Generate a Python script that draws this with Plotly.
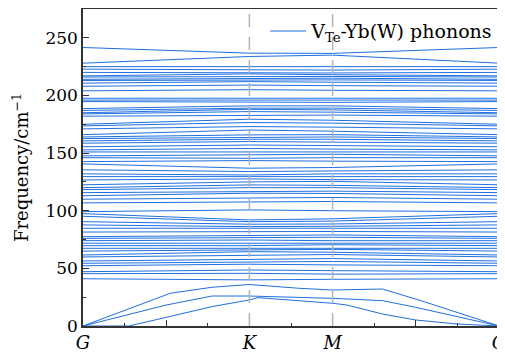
import plotly.graph_objects as go

# high-symmetry path positions and labels
kpath_pos = [0, 4, 6, 10]
kpath_labels = ["G", "K", "M", "G"]

# optical bands: frequency (cm^-1) at G, K, M (the path returns to G)
freq_G = [41.0, 45.4, 47.1, 52.3, 54.4, 56.4, 59.9, 61.6, 65.0, 67.4, 69.7, 71.8, 74.0, 76.0, 77.5,
          81.5, 84.8, 87.7, 90.5, 95.2, 97.5, 99.2, 106.8, 110.0, 113.0, 115.7, 118.3, 120.0, 122.5,
          126.7, 129.6, 132.0, 135.5, 140.6, 142.6, 146.0, 147.6, 151.0, 152.8, 155.5, 158.6, 160.6,
          162.6, 164.0, 166.0, 171.0, 173.6, 175.0, 182.0, 184.0, 185.0, 187.0, 188.6, 194.7, 196.0,
          197.6, 204.0, 208.0, 210.7, 213.0, 214.0, 216.0, 217.0, 220.0, 222.8, 225.0, 228.0, 241.6]
freq_K = [40.0, 45.7, 48.6, 53.6, 55.8, 58.0, 61.6, 64.5, 66.0, 67.4, 69.7, 71.8, 74.6, 76.5, 78.5,
          81.9, 84.8, 86.2, 88.3, 90.5, 92.0, 100.7, 108.0, 111.0, 115.2, 116.6, 120.0, 122.4, 125.0,
          127.6, 129.6, 131.0, 134.0, 136.9, 143.5, 145.5, 148.4, 151.3, 154.0, 157.0, 160.0, 162.0,
          163.8, 165.8, 170.0, 173.0, 176.5, 179.4, 183.0, 186.0, 188.0, 189.0, 191.0, 193.8, 195.6,
          197.6, 205.0, 209.0, 212.0, 213.5, 215.0, 216.4, 218.7, 219.5, 222.0, 225.0, 233.8, 236.7]
freq_M = [40.5, 45.0, 48.0, 53.0, 56.0, 58.5, 62.0, 64.0, 66.5, 68.0, 70.5, 72.0, 74.0, 77.0, 79.0,
          82.0, 85.0, 86.5, 88.5, 91.0, 93.0, 100.0, 108.0, 111.5, 115.0, 117.0, 120.0, 122.0, 125.5,
          127.0, 130.0, 132.0, 134.5, 137.5, 143.0, 146.0, 149.0, 151.0, 153.5, 156.5, 159.5, 162.0,
          164.0, 166.0, 169.0, 172.5, 176.0, 178.5, 183.0, 185.5, 187.5, 189.0, 191.0, 194.0, 196.0,
          198.0, 204.5, 208.5, 211.5, 213.5, 215.0, 216.5, 218.0, 219.5, 222.0, 225.0, 235.0, 236.5]

# acoustic branches (path coordinate, frequency)
ac1_k = [0, 1.1, 2.0, 3.1, 4.0, 4.2, 6.0, 6.34, 7.2, 8.0, 9.0, 10]
ac1_f = [0, 0, 7.5, 16.8, 22.6, 24.6, 19.7, 18.2, 10.4, 5.2, 1.7, 0]
ac2_k = [0, 2.0, 3.1, 4.0, 6.0, 7.2, 8.0, 10]
ac2_f = [0, 18.2, 26.0, 26.0, 24.0, 22.0, 16.2, 0]
ac3_k = [0, 2.1, 3.1, 4.0, 5.2, 6.0, 7.2, 8.2, 10]
ac3_f = [0, 28.4, 33.6, 36.0, 32.7, 31.2, 32.1, 21.1, 0]

BLUE = "#1f6fe0"
SERIF = "DejaVu Serif"

fig = go.Figure()

for ks, fs in [(ac1_k, ac1_f), (ac2_k, ac2_f), (ac3_k, ac3_f)]:
    fig.add_trace(go.Scatter(x=ks, y=fs, mode="lines", line=dict(color=BLUE, width=1),
                             showlegend=False, hoverinfo="skip"))

for i, (g, k, m) in enumerate(zip(freq_G, freq_K, freq_M)):
    fig.add_trace(go.Scatter(x=kpath_pos, y=[g, k, m, g], mode="lines",
                             line=dict(color=BLUE, width=1),
                             name="V<sub>Te</sub>-Yb(W) phonons", showlegend=(i == 0),
                             hoverinfo="skip"))

for xv in kpath_pos[1:3]:
    fig.add_shape(type="line", x0=xv, x1=xv, y0=0, y1=1, xref="x", yref="paper",
                  line=dict(color="#b4b4b4", width=1.5, dash="13px,10px"), layer="above")

fig.update_layout(
    width=505, height=346,
    margin=dict(l=75, r=14, t=1, b=28, autoexpand=False),
    plot_bgcolor="white", paper_bgcolor="white",
    font=dict(family=SERIF, size=17, color="black"),
    legend=dict(x=0.998, y=0.99, xanchor="right", yanchor="top",
                bgcolor="rgba(0,0,0,0)", borderwidth=0,
                font=dict(family=SERIF, size=19), itemwidth=36),
)
fig.update_xaxes(
    range=[0, 10], tickvals=[0, 2, 4, 6, 8, 10],
    ticktext=["<i>G</i>", "", "<i>K</i>", "<i>M</i>", "", "<i>G</i>"],
    ticks="inside", ticklen=6, tickwidth=1.2, tickcolor="#333",
    minor=dict(dtick=1, ticks="inside", ticklen=3, tickcolor="#333", showgrid=False),
    showline=True, linecolor="#333", linewidth=1.5, mirror=True,
    showgrid=False, zeroline=False, tickfont=dict(family=SERIF, size=18),
    automargin=False,
)
fig.update_yaxes(
    range=[0, 275], tickvals=[0, 50, 100, 150, 200, 250],
    ticks="inside", ticklen=6, tickwidth=1.2, tickcolor="#333",
    minor=dict(dtick=25, ticks="inside", ticklen=3, tickcolor="#333", showgrid=False),
    showline=True, linecolor="#333", linewidth=1.5, mirror=True,
    showgrid=False, zeroline=False, tickfont=dict(family=SERIF, size=17),
    title=dict(text="Frequency/cm<sup>−1</sup>", font=dict(family=SERIF, size=18), standoff=12),
    automargin=False,
)

fig.write_html("out.html")
